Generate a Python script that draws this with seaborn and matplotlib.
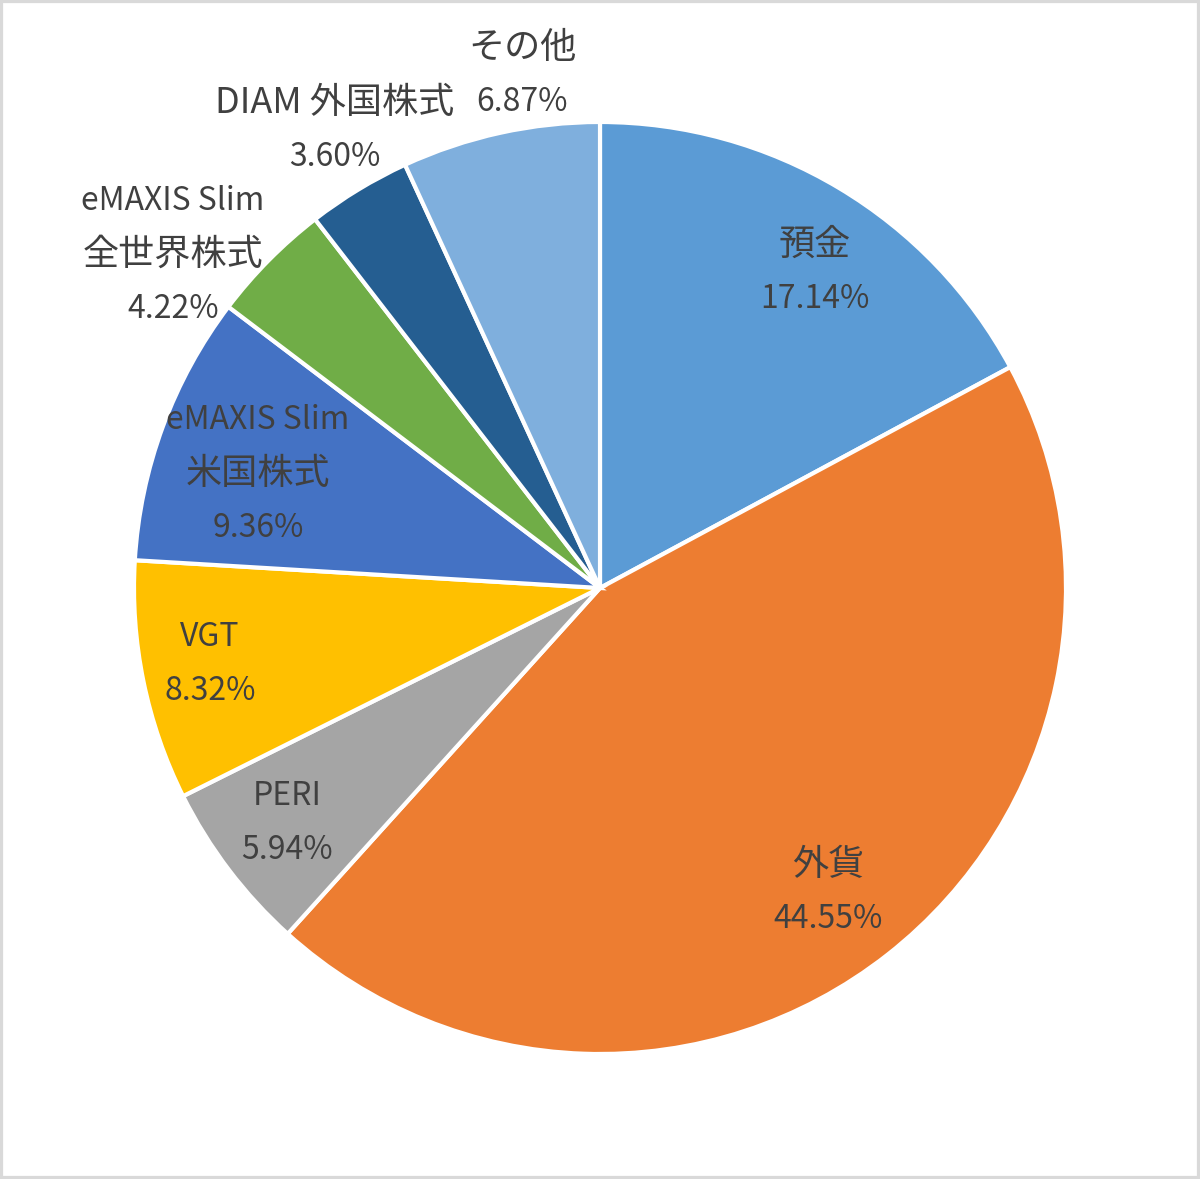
import matplotlib
matplotlib.use("Agg")
import matplotlib.pyplot as plt
import seaborn as sns

sns.set_theme(style="white")
plt.rcParams['font.family'] = ['Noto Sans CJK JP', 'DejaVu Sans']

# data
labels = ['預金', '外貨', 'PERI', 'VGT', 'eMAXIS Slim\n米国株式',
          'eMAXIS Slim\n全世界株式', 'DIAM 外国株式', 'その他']
shares = [17.14, 44.55, 5.94, 8.32, 9.36, 4.22, 3.60, 6.87]
colors = ['#5B9BD5', '#ED7D31', '#A5A5A5', '#FFC000', '#4472C4',
          '#70AD47', '#255E91', '#7FAFDD']

# label anchor points, in pie radius units
label_pos = [(0.461, 0.678), (0.489, -0.652), (-0.672, -0.504),
             (-0.837, -0.163), (-0.734, 0.245), (-0.916, 0.715),
             (-0.569, 0.983), (-0.167, 1.101)]

fig = plt.figure(figsize=(12, 11.79), dpi=100)
ax = fig.add_axes([0, 0, 1, 1])

ax.pie(shares, colors=colors, startangle=90, counterclock=False,
       radius=1.0, wedgeprops=dict(edgecolor='white', linewidth=3))

# each label line drawn on its own: the Excel font has wider kana/kanji
step = 39  # line pitch in points
for lab, val, (x, y) in zip(labels, shares, label_pos):
    lines = lab.split('\n') + ['{:.2f}%'.format(val)]
    n = len(lines)
    for i, line in enumerate(lines):
        cjk = any(ord(c) > 0x2E80 for c in line)
        ax.annotate(line, xy=(x, y), xytext=(0, ((n - 1) / 2 - i) * step),
                    textcoords='offset points', ha='center', va='center',
                    fontsize=26 if cjk else 23, color='#404040')

R = 466.0
ax.set_xlim(-600 / R, 600 / R)
ax.set_ylim(-591 / R, 588 / R)
ax.set_aspect('auto')
ax.axis('off')

# light grey frame like the Excel chart area
fig.patches.append(plt.Rectangle((0, 0), 1, 1, transform=fig.transFigure,
                                 fill=False, edgecolor='#D9D9D9', lw=4.5))

fig.savefig('out.png', dpi=100, facecolor='white')
